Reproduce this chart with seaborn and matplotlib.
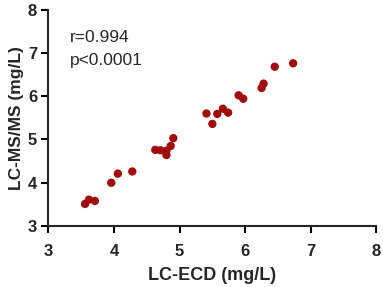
import matplotlib
matplotlib.use("Agg")
import matplotlib.pyplot as plt
import seaborn as sns
import pandas as pd

# LC-ECD vs LC-MS/MS concentrations (mg/L)
lc_ecd = [3.56, 3.62, 3.71, 3.96, 4.06, 4.28, 4.63, 4.71, 4.80, 4.80, 4.865, 4.905,
          5.41, 5.50, 5.575, 5.66, 5.74, 5.90, 5.97, 6.25, 6.28, 6.45, 6.73]
lc_msms = [3.51, 3.61, 3.58, 4.00, 4.21, 4.26, 4.76, 4.75, 4.74, 4.64, 4.85, 5.03,
           5.60, 5.36, 5.59, 5.71, 5.62, 6.02, 5.94, 6.19, 6.29, 6.68, 6.76]
x_ticks = [3, 4, 5, 6, 7, 8]
y_ticks = [3, 4, 5, 6, 7, 8]

df = pd.DataFrame({"ecd": lc_ecd, "msms": lc_msms})

sns.set_style("ticks")
plt.rcParams['font.family'] = ['Liberation Sans', 'DejaVu Sans']

fig = plt.figure(figsize=(3.83, 2.87), dpi=100)
ax = fig.add_axes([0.126, 0.2125, 0.857, 0.754])

sns.scatterplot(data=df, x="ecd", y="msms", color="#a30c0c", s=36,
                edgecolor="none", ax=ax, clip_on=False)

ax.set_xlim(3, 8)
ax.set_ylim(3, 8)
ax.set_xticks(x_ticks)
ax.set_yticks(y_ticks)
ax.tick_params(labelsize=12, width=1.5, length=5, color="black")
ax.tick_params(axis="x", pad=8)
ax.tick_params(axis="y", pad=3)
for lbl in ax.get_xticklabels() + ax.get_yticklabels():
    lbl.set_fontweight("bold")
ax.set_xlabel("LC-ECD (mg/L)", fontsize=13, fontweight="bold", labelpad=6)
ax.set_ylabel("LC-MS/MS (mg/L)", fontsize=12.5, fontweight="bold", labelpad=3)
for s in ["left", "bottom"]:
    ax.spines[s].set_linewidth(1.5)
sns.despine(ax=ax)

ax.text(3.33, 7.35, "r=0.994", fontsize=12.5, va="center")
ax.text(3.33, 6.82, "p<0.0001", fontsize=12.5, va="center")

fig.savefig("out.png", dpi=100)
